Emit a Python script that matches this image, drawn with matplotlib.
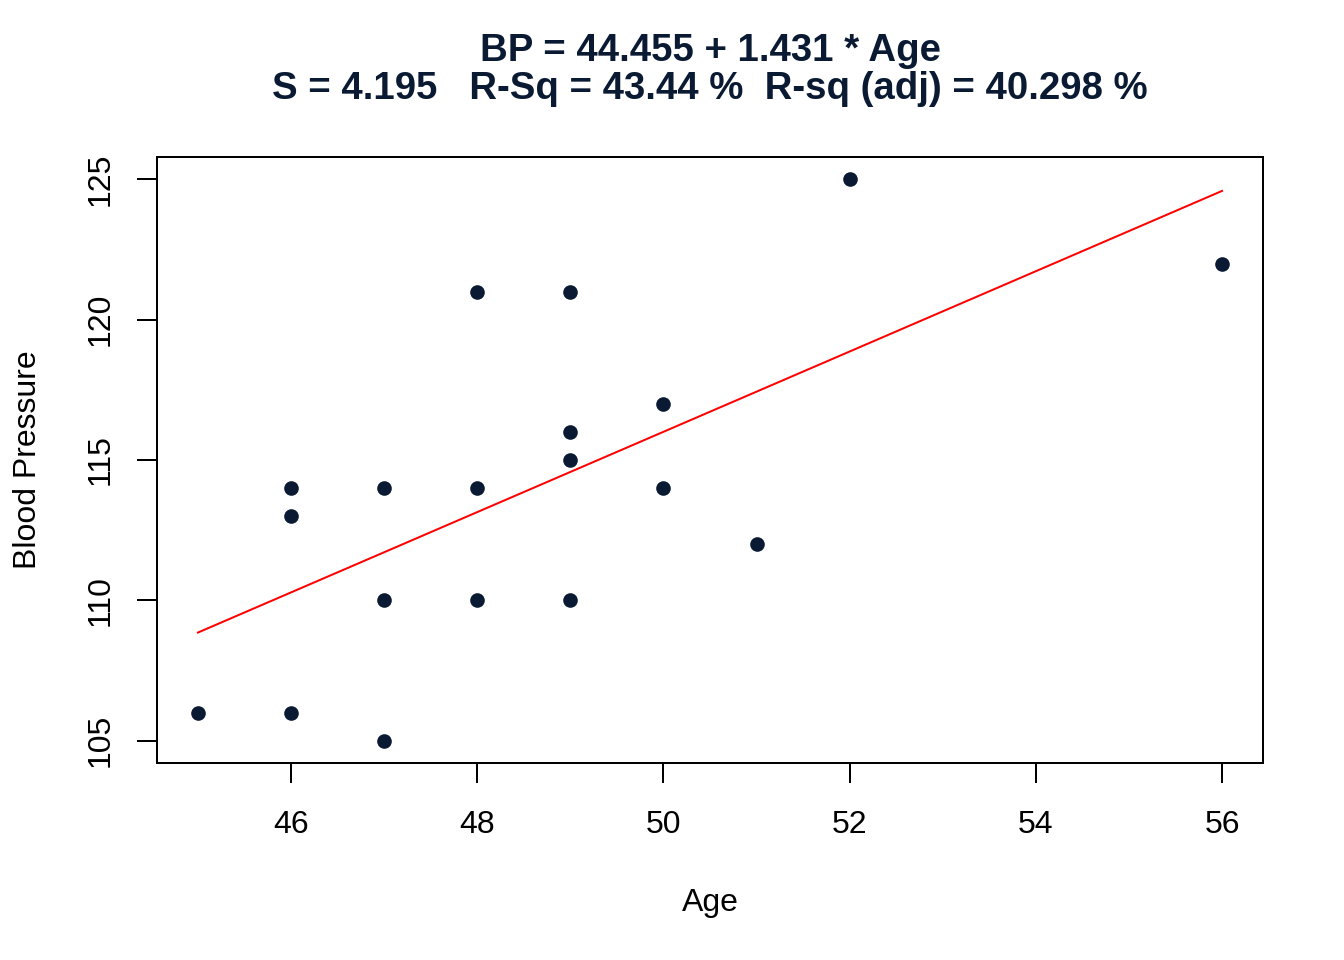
import matplotlib
matplotlib.use("Agg")
import matplotlib.pyplot as plt
import numpy as np

age = [45, 46, 46, 46, 47, 47, 47, 48, 48, 48, 49, 49, 49, 49, 50, 50, 51, 52, 56]
bp = [106, 106, 113, 114, 105, 110, 114, 110, 114, 121, 110, 115, 116, 121, 114, 117, 112, 125, 122]
intercept = 44.455
slope = 1.431
title_lines = ["BP = 44.455 + 1.431 * Age",
               "S = 4.195   R-Sq = 43.44 %  R-sq (adj) = 40.298 %"]
xticks = [46, 48, 50, 52, 54, 56]
yticks = [105, 110, 115, 120, 125]

navy = "#0a1a33"
plt.rcParams['font.family'] = ['Liberation Sans', 'DejaVu Sans']

fig = plt.figure(figsize=(7, 5), dpi=192)
left, right, top, bottom = 157/1344, 1263/1344, 1 - 157/960, 1 - 763/960
ax = fig.add_axes([left, bottom, right - left, top - bottom])

ax.scatter(age, bp, s=30, color=navy, zorder=3, linewidths=0)
xs = np.array([min(age), max(age)])
ax.plot(xs, intercept + slope * xs, color="red", lw=0.75)

xr = max(age) - min(age)
yr = max(bp) - min(bp)
ax.set_xlim(min(age) - 0.04 * xr, max(age) + 0.04 * xr)
ax.set_ylim(min(bp) - 0.04 * yr, max(bp) + 0.04 * yr)

ax.set_xticks(xticks)
ax.set_yticks(yticks)
ax.tick_params(axis='both', direction='out', length=7.5, width=0.75, labelsize=12, color='black')
ax.tick_params(axis='x', pad=10.3)
ax.tick_params(axis='y', pad=8)
for lab in ax.get_yticklabels():
    lab.set_rotation(90)
    lab.set_va('center')
for sp in ax.spines.values():
    sp.set_linewidth(0.75)

ax.set_xlabel("Age", fontsize=12, labelpad=18)
ax.set_ylabel("Blood Pressure", fontsize=12, labelpad=16)

cx = (left + right) / 2
fig.text(cx, 1 - 51/960, title_lines[0], ha='center', va='center',
         fontsize=14.4, fontweight='bold', color=navy)
fig.text(cx, 1 - 89/960, title_lines[1], ha='center', va='center',
         fontsize=14.4, fontweight='bold', color=navy)

fig.savefig("out.png", dpi=192)
